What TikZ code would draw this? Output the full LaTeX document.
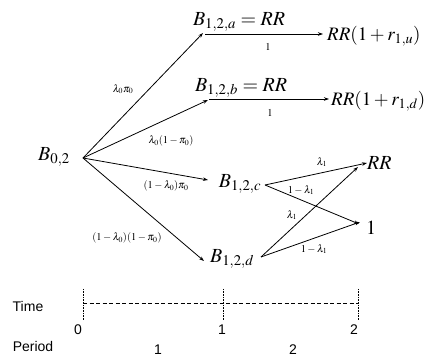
\documentclass[tikz,border=0pt]{standalone}
\usepackage{mathptmx}
\usepackage{fontspec}
\setsansfont{Liberation Sans}
\usetikzlibrary{arrows.meta}
\begin{document}
\begin{tikzpicture}[x=1pt,y=-1pt,
  big/.style={font=\fontsize{20}{24}\selectfont, inner sep=0pt},
  bigr/.style={font=\fontsize{19}{23}\selectfont, inner sep=0pt, anchor=west},
  lab/.style={font=\fontsize{10.5}{12}\selectfont, inner sep=0pt},
  ax/.style={font=\sffamily\fontsize{14}{16}\selectfont, inner sep=0pt},
  arr/.style={draw, line width=0.8pt, -{Stealth[length=5pt,width=3.5pt]}},
  tick/.style={draw, line width=0.6pt, densely dotted}]
\useasboundingbox (0,0) rectangle (424,358);
% nodes
\node[big] (B02) at (54,157) {$B_{0,2}$};
\node[big] (Ba) at (239,22) {$B_{1,2,a}=RR$};
\node[big] (Bb) at (241,88) {$B_{1,2,b}=RR$};
\node[big] (Bc) at (240,184) {$B_{1,2,c}$};
\node[big] (Bd) at (232,259) {$B_{1,2,d}$};
\node[bigr] (RRu) at (327,36) {$RR(1+r_{1,u})$};
\node[bigr] (RRd) at (331,101) {$RR(1+r_{1,d})$};
\node[big, anchor=west] (RR) at (367,163) {$RR$};
\node[big, anchor=west] (One) at (366,228) {$1$};
% anchor coordinates
\coordinate (o) at (83,158);
\coordinate (ea) at (203,33);
\coordinate (eb) at (208,100);
\coordinate (ec) at (208,180);
\coordinate (ed) at (204,261);
\coordinate (sa) at (205,34);
\coordinate (ta) at (323,34);
\coordinate (sb) at (209,99);
\coordinate (tb) at (329,99);
\coordinate (sc) at (265,185);
\coordinate (sd) at (261,257);
\coordinate (tRRc) at (367,163);
\coordinate (tRRd) at (358,167);
\coordinate (t1c) at (359,224);
\coordinate (t1d) at (360,222);
% connectors
\draw[arr] (o) -- (ea);
\draw[arr] (o) -- (eb);
\draw[arr] (o) -- (ec);
\draw[arr] (o) -- (ed);
\draw[arr] (sa) -- (ta);
\draw[arr] (sb) -- (tb);
\draw[arr] (sc) -- (tRRc);
\draw[arr] (sc) -- (t1c);
\draw[arr] (sd) -- (tRRd);
\draw[arr] (sd) -- (t1d);
% labels
\node[lab] (l1) at (123,89) {$\lambda_0\pi_0$};
\node[lab] (l2) at (171,141) {$\lambda_0(1-\pi_0)$};
\node[lab] (l3) at (166,186) {$(1-\lambda_0)\pi_0$};
\node[lab] (l4) at (127,238) {$(1-\lambda_0)(1-\pi_0)$};
\node[lab] (la) at (268,47) {$1$};
\node[lab] (lb) at (270,113) {$1$};
\node[lab] (lc1) at (322,162) {$\lambda_1$};
\node[lab] (lc2) at (301,190) {$1-\lambda_1$};
\node[lab] (ld1) at (292,215) {$\lambda_1$};
\node[lab] (ld2) at (314,249) {$1-\lambda_1$};
% time axis
\coordinate (t0) at (83,303);
\coordinate (t1) at (223,303);
\coordinate (t2) at (358,303);
\draw[line width=0.9pt, dash pattern=on 4pt off 2.5pt] (t0) -- (t2);
\coordinate (t0a) at (83,289); \coordinate (t0b) at (83,320);
\coordinate (t1a) at (223,289); \coordinate (t1b) at (223,320);
\coordinate (t2a) at (358,289); \coordinate (t2b) at (358,320);
\draw[tick] (t0a) -- (t0b);
\draw[tick] (t1a) -- (t1b);
\draw[tick] (t2a) -- (t2b);
\node[ax] (time) at (28,306) {Time};
\node[ax] (period) at (33,346) {Period};
\node[ax] (n0) at (78,330) {0};
\node[ax] (n1) at (222,330) {1};
\node[ax] (n2) at (354,330) {2};
\node[ax] (p1) at (158,350) {1};
\node[ax] (p2) at (293,350) {2};
\end{tikzpicture}
\end{document}
